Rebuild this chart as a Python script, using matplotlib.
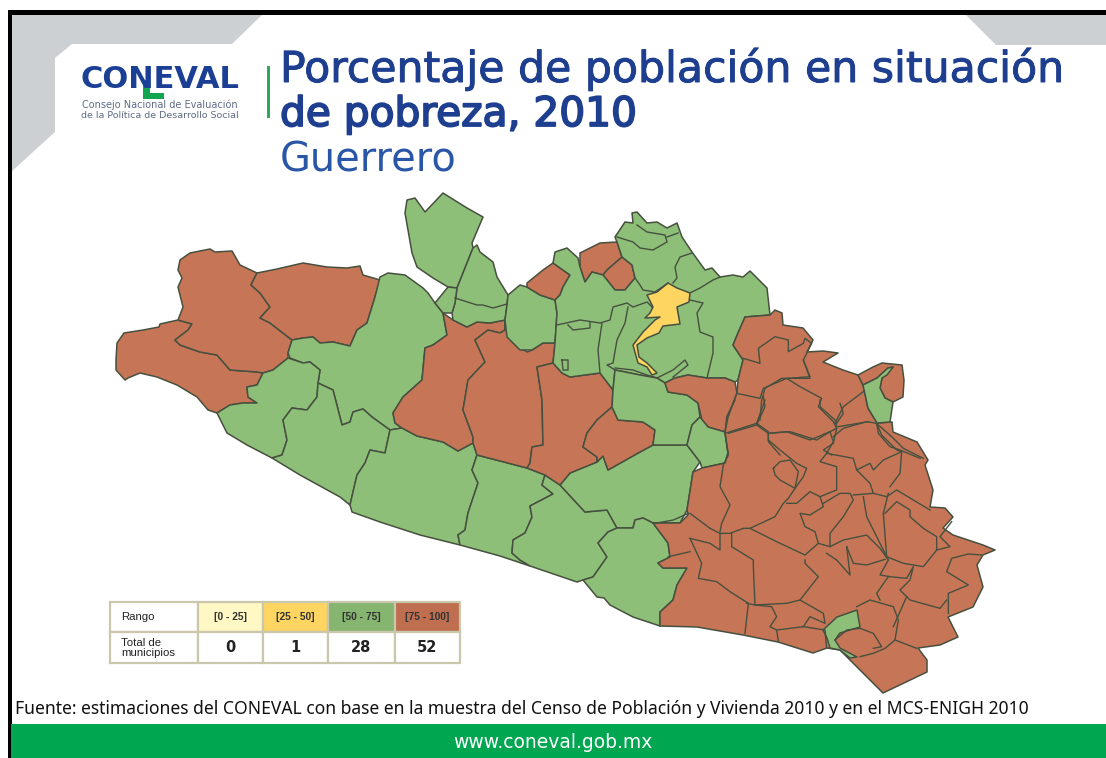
import matplotlib
matplotlib.use("Agg")
import matplotlib.pyplot as plt
import matplotlib.patheffects as pe
from matplotlib.patches import Polygon, Rectangle

# colours
ORANGE = "#C67656"
GREEN = "#8DBF78"
YELLOW = "#FDD560"
EDGE = "#47503F"
NAVY = "#1E3F8F"

# municipios, pixel coordinates
la_union = [(116,360),(117,343),(124,333),(143,330),(159,327),(160,324),(178,320),(192,324),(188,330),(175,340),(180,345),(200,352),(217,355),(230,370),(257,372),(263,373),(257,385),(247,387),(248,397),(257,403),(243,403),(230,405),(217,413),(208,410),(197,397),(177,385),(157,377),(140,373),(128,378),(125,380),(116,370)]
coahuayutla = [(178,270),(180,260),(190,253),(210,249),(215,252),(232,251),(240,265),(257,273),(251,285),(260,293),(270,307),(260,318),(270,323),(292,340),(288,353),(288,358),(273,370),(263,373),(257,372),(230,370),(217,355),(200,352),(180,345),(175,340),(188,330),(192,324),(178,320),(183,307),(178,287),(182,278)]
zirandaro = [(251,285),(257,273),(277,269),(303,263),(327,267),(347,268),(360,266),(363,275),(380,280),(375,297),(367,323),(357,330),(350,346),(333,342),(320,343),(313,337),(303,338),(292,340),(270,323),(260,318),(270,307),(260,293)]
coyuca = [(380,277),(388,273),(405,275),(423,288),(428,293),(435,303),(443,313),(447,335),(433,345),(425,348),(422,380),(403,397),(393,413),(395,423),(402,428),(390,430),(372,417),(363,409),(353,412),(350,422),(342,425),(333,390),(318,383),(320,370),(310,362),(303,363),(290,358),(288,353),(292,340),(303,338),(313,337),(320,343),(333,342),(350,346),(357,330),(367,323),(375,297)]
petatlan = [(217,413),(230,405),(243,403),(257,403),(248,397),(247,387),(257,385),(263,373),(273,370),(288,358),(303,363),(310,362),(320,370),(318,383),(317,397),(307,410),(292,408),(283,420),(287,440),(282,455),(272,458),(247,445),(227,433)]
tecpan = [(272,458),(282,455),(287,440),(283,420),(292,408),(307,410),(317,397),(318,383),(333,390),(342,425),(350,422),(353,412),(363,409),(372,417),(390,430),(385,453),(370,450),(365,463),(357,475),(353,492),(350,505),(340,497),(300,475)]
atoyac = [(390,430),(402,428),(417,436),(443,442),(458,451),(473,443),(477,455),(472,470),(478,483),(468,513),(465,530),(458,535),(460,545),(420,535),(380,522),(352,512),(350,505),(353,492),(357,475),(365,463),(370,450),(385,453)]
benitez = [(477,455),(527,468),(545,475),(542,485),(553,494),(530,506),(532,517),(525,533),(513,540),(512,553),(520,560),(530,566),(500,556),(460,545),(458,535),(465,530),(468,513),(478,483),(472,470)]
costa_i = [(545,475),(560,485),(585,512),(607,510),(617,528),(608,532),(598,543),(607,557),(593,577),(583,580),(577,582),(530,566),(520,560),(512,553),(513,540),(525,533),(532,517),(530,506),(553,494),(542,485)]
chilpancingo = [(560,485),(570,473),(597,462),(603,456),(608,470),(640,452),(653,445),(687,445),(700,462),(693,472),(687,510),(680,523),(653,523),(643,518),(635,520),(633,528),(617,528),(607,510),(585,512)]
acapulco = [(617,528),(633,528),(635,520),(643,518),(653,523),(668,543),(670,557),(658,563),(663,568),(687,568),(677,585),(673,600),(660,612),(660,626),(633,617),(610,605),(604,598),(597,597),(583,580),(593,577),(607,557),(598,543),(608,532)]
ajuchitlan = [(443,313),(453,320),(467,327),(477,322),(490,323),(505,320),(505,330),(500,333),(488,330),(475,340),(485,362),(468,380),(463,410),(473,437),(473,443),(458,451),(443,442),(417,436),(402,428),(395,423),(393,413),(403,397),(422,380),(425,348),(433,345),(447,335)]
tlacotepec = [(505,320),(513,343),(527,352),(532,350),(543,343),(555,343),(553,363),(537,367),(542,400),(543,445),(532,447),(530,463),(527,468),(477,455),(473,443),(473,437),(463,410),(468,380),(485,362),(475,340),(488,330),(500,333),(505,330)]
heliodoro = [(537,367),(553,363),(562,373),(570,377),(600,373),(613,390),(612,407),(597,420),(587,433),(583,447),(597,457),(597,462),(570,473),(560,485),(545,475),(527,468),(530,463),(532,447),(543,445),(542,400)]
leonardo = [(612,407),(618,420),(643,422),(655,430),(653,445),(640,452),(608,470),(603,456),(597,462),(597,457),(583,447),(587,433),(597,420)]
north_a = [(407,200),(415,198),(425,212),(443,193),(467,208),(483,217),(472,243),(473,248),(467,263),(457,288),(448,287),(433,278),(417,267),(412,253),(408,230),(405,213)]
north_b = [(477,245),(480,252),(493,262),(497,277),(508,295),(507,305),(505,320),(490,323),(477,322),(467,327),(453,320),(452,313),(455,303),(457,288),(467,263),(473,248)]
north_c = [(448,287),(457,288),(455,303),(452,313),(443,313),(435,303)]
arcelia = [(508,295),(520,285),(527,287),(540,295),(555,300),(557,313),(555,343),(543,343),(532,350),(520,350),(507,337),(505,320),(507,305)]
tlalchapa = [(527,283),(543,270),(553,263),(570,275),(563,287),(560,295),(555,300),(540,295),(527,287)]
pungarabato = [(580,253),(600,243),(617,242),(622,257),(607,270),(603,275),(592,272),(585,282),(580,267)]
cutzamala = [(622,257),(632,265),(635,278),(625,290),(615,290),(603,275),(607,270)]
centro = [(553,263),(555,252),(567,248),(578,258),(580,267),(585,282),(592,272),(603,275),(615,290),(625,290),(635,278),(632,265),(622,257),(617,242),(615,237),(625,222),(633,223),(632,213),(637,212),(647,223),(657,222),(667,228),(677,223),(682,237),(692,252),(705,270),(712,268),(720,277),(733,275),(743,277),(750,271),(767,288),(770,315),(745,317),(738,333),(733,345),(743,360),(738,380),(735,382),(725,378),(707,378),(688,375),(675,378),(665,383),(657,378),(640,375),(615,370),(613,390),(600,373),(570,377),(562,373),(553,363),(555,343),(557,313),(555,300),(560,295),(563,287),(570,275)]
iguala = [(647,295),(657,292),(668,283),(677,288),(690,293),(689,302),(677,307),(680,324),(663,326),(659,333),(647,338),(637,345),(639,357),(647,363),(652,368),(657,373),(652,375),(647,367),(638,363),(633,345),(643,332),(655,320),(660,317),(645,318),(650,313),(653,307)]
eduardo = [(615,370),(640,375),(657,378),(665,383),(668,392),(687,395),(698,403),(700,417),(692,425),(687,445),(653,445),(655,430),(643,422),(618,420),(612,407),(613,390)]
quechultenango = [(665,383),(668,392),(687,395),(698,403),(702,420),(708,427),(725,432),(728,417),(737,393),(735,382),(725,378),(707,378),(688,375),(675,378)]
mochitlan = [(700,417),(708,427),(725,432),(728,453),(725,463),(702,468),(700,462),(687,445),(692,425)]
montana = [(653,523),(668,543),(670,557),(658,563),(663,568),(687,568),(677,585),(673,600),(660,612),(660,626),(697,627),(743,635),(778,642),(813,653),(827,648),(840,650),(853,663),(883,693),(927,672),(927,660),(918,648),(940,645),(958,637),(948,617),(973,607),(983,587),(977,565),(983,555),(995,550),(983,545),(953,535),(943,528),(953,517),(945,508),(930,507),(933,490),(925,465),(928,460),(917,442),(893,432),(892,422),(877,423),(868,408),(863,385),(858,375),(843,370),(823,362),(838,353),(823,351),(807,352),(813,340),(803,328),(783,325),(782,313),(775,310),(770,315),(745,317),(738,333),(733,345),(743,360),(738,380),(737,393),(728,417),(725,432),(728,453),(725,463),(702,468),(693,472),(687,510),(688,515),(680,523)]
ne_piece = [(858,375),(873,367),(882,363),(902,365),(904,380),(903,397),(893,402),(885,398),(880,388),(882,378),(893,367),(888,368),(877,378),(863,385)]
ne_green = [(863,385),(877,378),(888,368),(893,367),(887,375),(882,378),(880,388),(885,398),(893,402),(890,422),(877,423),(868,408)]
south_green = [(823,630),(837,617),(857,610),(860,627),(840,633),(835,640),(840,648),(857,657),(850,658),(840,650),(830,648),(827,638)]

regions = [
    (la_union, ORANGE), (coahuayutla, ORANGE), (zirandaro, ORANGE), (coyuca, GREEN),
    (petatlan, GREEN), (tecpan, GREEN), (atoyac, GREEN), (benitez, GREEN), (costa_i, GREEN),
    (chilpancingo, GREEN), (acapulco, GREEN), (ajuchitlan, ORANGE), (tlacotepec, ORANGE),
    (heliodoro, ORANGE), (leonardo, ORANGE), (north_a, GREEN), (north_b, GREEN), (north_c, GREEN),
    (arcelia, GREEN), (tlalchapa, ORANGE), (pungarabato, ORANGE), (cutzamala, ORANGE),
    (centro, GREEN), (iguala, YELLOW), (eduardo, GREEN), (quechultenango, ORANGE),
    (mochitlan, GREEN), (montana, ORANGE), (ne_piece, ORANGE), (ne_green, GREEN),
    (south_green, GREEN),
]

# inner borders, pixel coordinates
north_lines = [
    [(617,237),(633,242),(640,248),(653,250),(667,242),(665,235),(647,232),(637,225)],
    [(667,237),(678,233)],
    [(692,253),(680,257),(675,267),(677,278),(673,283)],
    [(668,283),(655,292),(643,290),(640,285),(635,278)],
    [(690,293),(700,288),(713,280),(720,277)],
    [(690,300),(703,303),(697,313),(700,332),(713,337),(713,353),(707,378)],
    [(557,325),(580,320),(600,323),(610,320),(613,307),(627,303),(633,307),(647,302),(652,307)],
    [(602,323),(598,350),(600,373)],
    [(628,307),(625,323),(617,340),(613,363),(607,365),(615,370)],
    [(615,368),(633,370),(647,375),(657,378),(673,370),(685,360),(688,365),(673,377)],
    [(568,325),(573,330),(590,328),(590,322)],
    [(562,360),(568,360),(568,370),(563,370),(562,360)],
    [(455,298),(477,305),(483,305),(493,308),(507,304)],
]

# inner borders of the south east, crop coordinates: x = 640 + cx / 3, y = 400 + cy / 3
east_lines = [
    [(285,0),(260,50),(255,100),(265,165),(250,195),(240,260),(270,315),(245,370),(240,395)],
    [(375,0),(350,70),(255,100)],
    [(350,70),(385,95),(385,120),(420,150),(470,190),(500,205),(490,230),(465,265),(445,295),(430,310),(405,350),(330,385),(310,385),(270,400),(240,400),(210,385),(150,340)],
    [(385,100),(440,95),(510,120),(570,95),(580,125),(560,160),(540,185),(590,200),(590,270),(540,290)],
    [(580,110),(610,85),(680,65),(710,70),(725,105),(770,150),(785,155)],
    [(590,80),(585,60),(540,20),(540,0)],
    [(590,70),(610,40),(600,10)],
    [(715,75),(755,110),(790,145),(850,175)],
    [(560,160),(640,175),(650,210),(690,190),(700,210),(730,180),(785,155),(780,220),(750,260)],
    [(400,205),(420,185),(450,180),(475,215),(465,265),(420,240),(405,225),(400,205)],
    [(440,310),(470,310),(510,275),(540,290),(550,320),(510,345),(480,340),(495,380),(525,395),(535,430),(495,465),(410,425),(330,385)],
    [(550,310),(600,280),(630,280),(640,300),(610,350),(570,400),(570,440),(535,430)],
    [(640,285),(700,280),(690,250),(650,210)],
    [(670,290),(680,350),(720,430),(745,480)],
    [(700,280),(740,290),(770,270),(870,330)],
    [(745,280),(730,340),(740,470),(790,490),(850,500),(890,450),(890,410),(850,385),(810,350),(810,330),(770,305),(735,340)],
    [(890,450),(930,440),(900,410),(935,365)],
    [(570,440),(610,420),(680,405),(720,445),(745,480),(720,525),(750,530),(800,535),(820,500),(810,540),(780,570),(810,600),(900,625),(920,600)],
    [(925,640),(925,580),(985,555),(920,515),(935,475),(985,462),(1025,465)],
    [(495,480),(495,490),(535,530),(480,600),(440,610),(345,615),(340,500),(340,480),(275,440),(275,400)],
    [(620,440),(640,490),(680,495),(735,478)],
    [(560,460),(590,480),(630,525),(620,440)],
    [(480,600),(550,640),(555,670),(510,650),(490,680),(410,690),(390,680),(410,650),(395,620),(345,615),(320,610)],
    [(150,415),(210,430),(240,450),(240,400)],
    [(150,415),(185,490),(175,535),(230,545),(270,575),(325,610),(315,700)],
    [(415,725),(410,690)],
    [(490,680),(555,690),(560,745)],
    [(650,620),(690,600),(760,620),(775,660),(765,720),(735,745),(700,760),(660,770)],
    [(585,720),(620,690),(660,685),(700,700),(725,740),(700,745)],
    [(765,720),(830,745)],
    [(760,680),(800,590)],
    [(720,600),(710,580),(745,530)],
    [(45,370),(100,360),(145,340)],
    [(85,470),(150,455)],
]

# crop coordinates: x = 660 + cx / 3, y = 310 + cy / 3
guerrero_lines = [
    [(230,250),(300,265),(310,235),(380,205),(450,205),(430,150),(455,100),(435,85),(430,100),(385,125),(385,90),(345,80),(295,115),(300,160),(250,145)],
    [(310,260),(315,290),(290,345),(205,370)],
    [(290,345),(325,370),(325,395),(360,435)],
    [(325,370),(390,365),(470,390),(510,365),(530,355)],
    [(380,205),(420,230),(485,265),(475,290),(520,335),(530,355),(520,400),(490,420),(515,435)],
]

# crop coordinates: x = 760 + cx / 3, y = 300 + cy / 3
tlapa_lines = [
    [(130,180),(150,230),(85,235),(65,235),(15,265),(5,300),(0,360)],
    [(225,370),(250,320),(310,275)],
    [(235,380),(325,365)],
    [(350,370),(355,400),(390,440),(420,450),(480,475)],
]

# table
range_labels = ["[0 - 25]", "[25 - 50]", "[50 - 75]", "[75 - 100]"]
range_colors = ["#FFF7C4", "#FDD560", "#86B56F", "#BF6E4F"]
municipio_totals = ["0", "1", "28", "52"]
col_edges = [110, 198, 263, 328, 395, 460]
row_edges = [602, 632, 663]

title_line1 = "Porcentaje de población en situación"
title_line2 = "de pobreza, 2010"
subtitle = "Guerrero"
source = "Fuente: estimaciones del CONEVAL con base en la muestra del Censo de Población y Vivienda 2010 y en el MCS-ENIGH 2010"
website = "www.coneval.gob.mx"

fig = plt.figure(figsize=(11.06, 7.58), dpi=100, facecolor="white")
ax = fig.add_axes([0, 0, 1, 1])
ax.set_xlim(0, 1106)
ax.set_ylim(758, 0)
ax.axis("off")

# frame and corners
ax.add_patch(Polygon([(11,14),(263,14),(232,44),(72,44),(55,58),(55,132),(11,172)], fc="#CDD0D3", ec="none"))
ax.add_patch(Polygon([(965,14),(1106,14),(1106,45),(996,45)], fc="#CDD0D3", ec="none"))
ax.add_patch(Rectangle((8, 10), 1098, 4.5, fc="black", ec="none"))
ax.add_patch(Rectangle((8, 10), 3.5, 748, fc="black", ec="none"))
ax.add_patch(Rectangle((11, 724), 1095, 34, fc="#00A650", ec="none"))

# logo
ax.text(160, 79, "CONEVAL", fontsize=22, fontweight="bold", color="#1B3F94", ha="center", va="center",
        family="DejaVu Sans")
ax.add_patch(Rectangle((143, 80), 7, 19, fc="#12A650", ec="none"))
ax.add_patch(Rectangle((143, 93), 21, 6, fc="#12A650", ec="none"))
ax.text(160, 105, "Consejo Nacional de Evaluación", fontsize=7, color="#5F6B85", ha="center", va="center",
        family="DejaVu Sans")
ax.text(160, 115, "de la Política de Desarrollo Social", fontsize=6.8, color="#5F6B85", ha="center", va="center",
        family="DejaVu Sans")
ax.add_patch(Rectangle((267, 66), 3, 52, fc="#2FA85C", ec="none"))

# titles
ax.text(280, 82, title_line1, fontsize=30.7, color=NAVY, ha="left", va="baseline", family="DejaVu Sans",
        path_effects=[pe.withStroke(linewidth=0.7, foreground=NAVY)])
ax.text(280, 126, title_line2, fontsize=29.3, color=NAVY, ha="left", va="baseline", family="DejaVu Sans",
        path_effects=[pe.withStroke(linewidth=1.3, foreground=NAVY)])
ax.text(280, 171, subtitle, fontsize=28.7, color="#2A56A8", ha="left", va="baseline", family="DejaVu Sans")

# map
for coords, colour in regions:
    ax.add_patch(Polygon(coords, closed=True, fc=colour, ec=EDGE, lw=1.1, joinstyle="round"))
for line in north_lines:
    ax.plot([p[0] for p in line], [p[1] for p in line], color=EDGE, lw=1.0)
for lines, x0, y0 in [(east_lines, 640, 400), (guerrero_lines, 660, 310), (tlapa_lines, 760, 300)]:
    for line in lines:
        ax.plot([x0 + p[0] / 3 for p in line], [y0 + p[1] / 3 for p in line], color=EDGE, lw=1.0)

# table
grid = "#C9C7AC"
for i in range(5):
    x0, x1 = col_edges[i], col_edges[i + 1]
    for j in range(2):
        y0, y1 = row_edges[j], row_edges[j + 1]
        fc = range_colors[i - 1] if (i > 0 and j == 0) else "white"
        ax.add_patch(Rectangle((x0, y0), x1 - x0, y1 - y0, fc=fc, ec=grid, lw=1.6))
ax.text(121, 617.5, "Rango", fontsize=8.2, color="#222222", ha="left", va="center", family="Liberation Sans")
ax.text(121, 648, "Total de\nmunicipios", fontsize=8.2, color="#222222", ha="left", va="center",
        family="Liberation Sans", linespacing=1.0)
for i in range(4):
    xc = (col_edges[i + 1] + col_edges[i + 2]) / 2
    ax.text(xc, 617.5, range_labels[i], fontsize=7.4, fontweight="bold", color="#333333", ha="center",
            va="center", family="Liberation Sans")
    ax.text(xc, 647, municipio_totals[i], fontsize=10.5, fontweight="bold", color="#222222", ha="center",
            va="center", family="DejaVu Sans")

# footer
ax.text(15, 709, source, fontsize=12.6, color="#111111", ha="left", va="center", family="Noto Sans")
ax.text(553, 743, website, fontsize=13.5, color="white", ha="center", va="center", family="DejaVu Sans")

fig.savefig("out.png", dpi=100)
